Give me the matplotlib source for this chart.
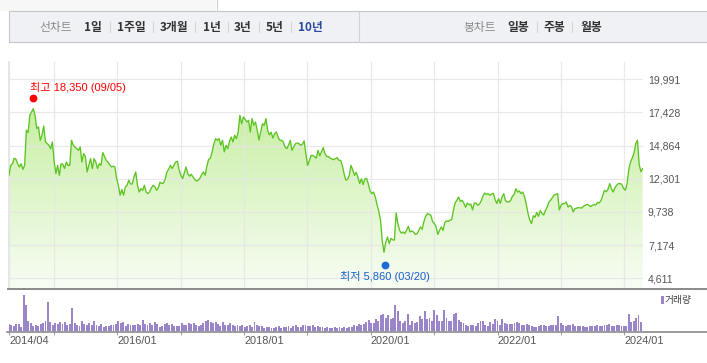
import matplotlib
matplotlib.use('Agg')
import matplotlib.pyplot as plt
import matplotlib.dates as mdates
import matplotlib.transforms as mtransforms
from matplotlib.colors import LinearSegmentedColormap
from matplotlib.patches import Rectangle
from matplotlib.lines import Line2D
import numpy as np
import pandas as pd

W, H = 707, 363
KR = ['Noto Sans CJK KR', 'DejaVu Sans']
NUM = ['Liberation Sans', 'Noto Sans CJK KR', 'DejaVu Sans']

# ---- data (10 years, close every 10 days / volume every 14 days) ----
start_date = '2014-04-18'
close = [
    12570, 13340, 13470, 13900, 13810, 13470, 13210, 13470, 13030, 13340,
    16050, 15870, 17210, 17470, 17720, 17210, 16180, 16310, 15280, 15660,
    16380, 15150, 15020, 14890, 14630, 15150, 13660, 12700, 13340, 12570,
    13470, 13420, 13090, 13600, 13340, 13340, 15280, 14890, 14760, 14630,
    14500, 14760, 13600, 14250, 14020, 12830, 13340, 13860, 13090, 13860,
    13600, 13090, 13470, 13340, 14330, 14020, 13730, 13600, 13400, 13220,
    13270, 13220, 12320, 11800, 11030, 11480, 11030, 11670, 11800, 12190,
    11900, 11900, 12450, 12830, 11800, 11280, 11540, 11410, 11800, 11280,
    11150, 11300, 11600, 11800, 11700, 11410, 11600, 12050, 11930, 11980,
    12300, 12830, 13060, 13340, 13090, 13340, 13600, 13650, 13000, 12570,
    12320, 12770, 13215, 12700, 12500, 12650, 12440, 12250, 12130, 12200,
    12350, 12630, 12830, 12570, 13300, 13800, 13900, 14380, 15000, 15400,
    15280, 15400, 14890, 15280, 14380, 14890, 14630, 15200, 15530, 15150,
    15660, 15400, 15920, 17210, 16560, 17080, 16900, 16690, 16820, 15920,
    16950, 16430, 16690, 16050, 15300, 15920, 16560, 16430, 16950, 16050,
    15700, 15900, 15450, 15790, 15920, 15530, 15280, 15280, 15150, 14760,
    14630, 14890, 15280, 14500, 14760, 15020, 15070, 15020, 14890, 14980,
    15230, 14250, 13340, 13700, 14100, 14100, 14015, 13900, 14500, 14070,
    14380, 14710, 14250, 14020, 14020, 13900, 13830, 13780, 13860, 13940,
    13730, 13730, 13340, 12700, 12200, 12250, 12570, 13340, 13000, 12570,
    12800, 12400, 11930, 12300, 11850, 12300, 12320, 11900, 11350, 11150,
    11280, 10890, 10300, 9800, 9100, 7500, 6620, 7400, 7800, 7300,
    7700, 7580, 7570, 9660, 8840, 8320, 8100, 8190, 8070, 8320,
    8630, 8190, 8270, 8190, 8000, 8050, 8300, 8580, 8400, 9000,
    9400, 9610, 9560, 9480, 9000, 8840, 8600, 8000, 8320, 8580,
    8320, 8900, 9050, 9000, 9100, 9150, 9870, 10450, 10640, 10890,
    10550, 10640, 10420, 10100, 10430, 10300, 10350, 9900, 10430, 10430,
    10250, 10350, 10600, 10950, 11200, 11100, 11150, 11030, 11120, 11180,
    10700, 10400, 10770, 10400, 10900, 11150, 10600, 10510, 10510, 10640,
    10950, 11100, 11540, 11280, 11360, 11150, 11280, 10900, 10300, 9600,
    9100, 8840, 9450, 9330, 9700, 9400, 9850, 9620, 9500, 9870,
    10120, 10500, 10650, 10850, 11050, 11100, 11150, 9900, 10250, 10380,
    10380, 10510, 10120, 10250, 10140, 9740, 10000, 10030, 10080, 10050,
    10050, 10200, 10260, 10330, 10250, 10150, 10250, 10310, 10280, 10480,
    10430, 10630, 11000, 11410, 11300, 11470, 11930, 11540, 11280, 11600,
    11800, 11930, 11930, 11880, 11560, 11420, 11900, 13000, 13600, 13900,
    14300, 15020, 15280, 13400, 12850, 13090,
]
volume = [
    700, 600, 500, 700, 700, 400, 3600, 2600, 1000, 800,
    500, 600, 500, 700, 800, 1000, 2900, 900, 600, 800,
    700, 900, 700, 900, 600, 700, 2300, 800, 600, 500,
    1000, 700, 600, 800, 600, 1000, 600, 500, 700, 400,
    500, 500, 600, 600, 700, 1000, 800, 900, 500, 700,
    600, 600, 600, 700, 600, 1100, 700, 600, 800, 600,
    900, 700, 400, 500, 700, 800, 600, 700, 500, 500,
    500, 800, 600, 600, 800, 700, 800, 600, 500, 600,
    800, 1000, 1100, 900, 800, 900, 700, 500, 900, 600,
    600, 800, 600, 500, 600, 500, 600, 400, 500, 600,
    400, 900, 600, 500, 500, 300, 400, 400, 300, 300,
    400, 500, 300, 400, 400, 500, 300, 500, 600, 400,
    400, 600, 600, 500, 500, 600, 400, 500, 400, 400,
    300, 400, 300, 300, 400, 300, 400, 300, 400, 300,
    400, 400, 600, 500, 700, 600, 700, 900, 1100, 800,
    800, 1200, 1000, 1600, 1700, 1300, 1600, 1200, 1300, 2600,
    2000, 1000, 800, 1000, 1700, 600, 1000, 800, 900, 1500,
    1200, 2000, 1200, 1300, 1000, 2100, 1600, 1000, 1000, 2100,
    1300, 1000, 1000, 1700, 1800, 1100, 900, 800, 600, 500,
    600, 600, 500, 800, 1000, 1000, 600, 500, 900, 700,
    1200, 1000, 600, 1200, 800, 700, 700, 700, 800, 900,
    800, 600, 600, 700, 600, 500, 400, 400, 500, 600,
    600, 500, 500, 600, 600, 600, 1500, 800, 600, 500,
    600, 600, 700, 500, 500, 500, 500, 400, 400, 500,
    500, 500, 600, 500, 500, 600, 600, 700, 500, 500,
    600, 600, 500, 500, 500, 1700, 900, 1000, 1300, 1600, 900,
]
y_ticks = [4611, 7174, 9738, 12301, 14864, 17428, 19991]
x_tick_dates = ['2014-04-18', '2015-01-01', '2016-01-01', '2017-01-01', '2018-01-01',
                '2019-01-01', '2020-01-01', '2021-01-01', '2022-01-01', '2023-01-01',
                '2024-01-01']
x_tick_labels = ['2014/04', '', '2016/01', '', '2018/01', '', '2020/01', '', '2022/01', '',
                 '2024/01']
high_date, high_value, high_md = '2014-09-05', 18350, '09/05'
low_date, low_value, low_md = '2020-03-20', 5860, '03/20'
line_tabs = ['1일', '1주일', '3개월', '1년', '3년', '5년', '10년']
candle_tabs = ['일봉', '주봉', '월봉']

dates = pd.date_range(start_date, periods=len(close), freq='10D')
vdates = pd.date_range(start_date, periods=len(volume), freq='14D')
x0 = mdates.date2num(pd.Timestamp('2014-04-18'))
x1 = mdates.date2num(pd.Timestamp('2024-04-17'))


def fx(x):
    return x / W


def fy(y):
    return 1 - y / H


def vsep(x):
    fig.add_artist(Line2D([fx(x)] * 2, [fy(22), fy(32)], color='#d2d2d2', lw=0.7))


fig = plt.figure(figsize=(W / 100, H / 100), dpi=100)
fig.patch.set_facecolor('white')

# ---- header ----
fig.patches.append(Rectangle((0, fy(11)), fx(216), 11 / H, transform=fig.transFigure,
                             facecolor='#f7f7f7', edgecolor='none'))
fig.add_artist(Line2D([fx(216.5)] * 2, [fy(0), fy(11)], color='#cfcfcf', lw=0.8))
fig.patches.append(Rectangle((fx(8.5), fy(42.3)), (710 - 8.5) / W, 31.3 / H,
                             transform=fig.transFigure, facecolor='#eff1f5',
                             edgecolor='#c4c7cd', lw=0.8))
fig.add_artist(Line2D([fx(358.5)] * 2, [fy(11.5), fy(42)], color='#cfd2d8', lw=0.8))

fig.text(fx(56), fy(27), '선차트', family=KR, fontsize=8.5, color='#8a8a8a',
         ha='center', va='center')
tab_x = [93, 131.5, 174, 212, 242.5, 275, 310]
for name, x in zip(line_tabs, tab_x):
    col = '#2a4a9c' if name == '10년' else '#333333'
    fig.text(fx(x), fy(27), name, family=KR, fontsize=8.5, fontweight='bold',
             color=col, ha='center', va='center')
for sx in [110, 152.7, 195, 227.7, 259, 291]:
    vsep(sx)

fig.text(fx(480), fy(27), '봉차트', family=KR, fontsize=8.5, color='#8a8a8a',
         ha='center', va='center')
ctab_x = [518, 554, 591]
for name, x in zip(candle_tabs, ctab_x):
    fig.text(fx(x), fy(27), name, family=KR, fontsize=8.5, fontweight='bold',
             color='#333333', ha='center', va='center')
for sx in [536.5, 571.7]:
    vsep(sx)

# ---- price chart ----
k = 15380 / 199.0
ylo = 4611 - (288.7 - 278.3) * k
yhi = 19991 + (79.3 - 62) * k

ax = fig.add_axes([fx(9), fy(288.7), (643 - 9) / W, (288.7 - 62) / H])
for s in ax.spines.values():
    s.set_visible(False)

poly = ax.fill_between(dates, close, ylo, facecolor='none', edgecolor='none')
cmap = LinearSegmentedColormap.from_list('g', ['#f8fdf4', '#bceb90'])
grad = np.linspace(0, 1, 256).reshape(-1, 1)
img = ax.imshow(grad, extent=[x0, x1, ylo, yhi], aspect='auto', cmap=cmap,
                origin='lower', zorder=1)
img.set_clip_path(poly.get_paths()[0], transform=ax.transData)

ax.plot(dates, close, color='#5cc421', lw=0.95, zorder=3)

ax.set_xlim(x0, x1)
ax.set_ylim(ylo, yhi)
ax.set_yticks(y_ticks)
ax.set_yticklabels([f'{v:,}' for v in y_ticks])
ax.yaxis.tick_right()
ax.tick_params(axis='y', length=0, pad=3.6, labelsize=7.6, labelcolor='#555555')
for t in ax.get_yticklabels():
    t.set_family(NUM)
ax.set_xticks([mdates.date2num(pd.Timestamp(d)) for d in x_tick_dates])
ax.tick_params(axis='x', length=0, labelbottom=False)
ax.set_axisbelow(False)
ax.grid(True, color='#e6e6e6', lw=0.9, alpha=0.85, zorder=2)
ax.axvline(x0, color='#e6e6e6', lw=1.4, clip_on=False, zorder=2)

# high / low markers
hd = mdates.date2num(pd.Timestamp(high_date))
ld = mdates.date2num(pd.Timestamp(low_date))
up = ax.transData + mtransforms.ScaledTranslation(0, 3 / 100, fig.dpi_scale_trans)
down = ax.transData + mtransforms.ScaledTranslation(0, -3 / 100, fig.dpi_scale_trans)
ax.plot([hd], [high_value], 'o', color='#ff0000', ms=4.6, transform=up, clip_on=False,
        zorder=5)
ax.plot([ld], [low_value], 'o', color='#1d6ad6', ms=4.6, transform=down, clip_on=False,
        zorder=5)
ax.annotate(f'최고 {high_value:,} ({high_md})', xy=(hd, high_value), xytext=(-2.4, 9.6),
            textcoords='offset points', ha='left', va='center', color='#ff0000',
            fontsize=8, family=NUM, zorder=6)
ax.annotate(f'최저 {low_value:,} ({low_md})', xy=(ld, low_value), xytext=(0, -10.2),
            textcoords='offset points', ha='center', va='center', color='#1b5fcc',
            fontsize=8, family=NUM, zorder=6)

fig.add_artist(Line2D([fx(8), 1], [fy(288.9)] * 2, color='#8a8a8a', lw=1.4))

# ---- volume chart ----
vtop = 292
vbot = 331.3
vax = fig.add_axes([fx(9), fy(vbot), (643 - 9) / W, (vbot - vtop) / H])
for s in vax.spines.values():
    s.set_visible(False)
vax.bar(vdates, volume, width=11, color='#9b85c9', edgecolor='none')
vax.set_xlim(x0, x1)
vax.set_ylim(0, max(volume) * (vbot - vtop) / 36.0)
vax.set_yticks([])
vax.set_xticks([mdates.date2num(pd.Timestamp(d)) for d in x_tick_dates])
vax.set_xticklabels([])
vax.tick_params(axis='x', length=3.2, width=0.8, color='#a0a0a0', direction='out')
lab_tr = mtransforms.blended_transform_factory(vax.transData, fig.transFigure)
for d, lab in zip(x_tick_dates, x_tick_labels):
    if lab:
        vax.text(mdates.date2num(pd.Timestamp(d)) + 0.6, fy(341.5), lab, transform=lab_tr,
                 ha='left', va='center', fontsize=7.9, color='#555555', family=NUM)
fig.add_artist(Line2D([fx(7), 1], [fy(vbot + 0.3)] * 2, color='#8a8a8a', lw=1.2))

# legend
fig.patches.append(Rectangle((fx(661), fy(304)), 2.6 / W, 8 / H, transform=fig.transFigure,
                             facecolor='#9b85c9', edgecolor='none'))
fig.text(fx(664.5), fy(300), '거래량', family=KR, fontsize=7, color='#444444',
         ha='left', va='center')

fig.savefig('out.png', dpi=100)
